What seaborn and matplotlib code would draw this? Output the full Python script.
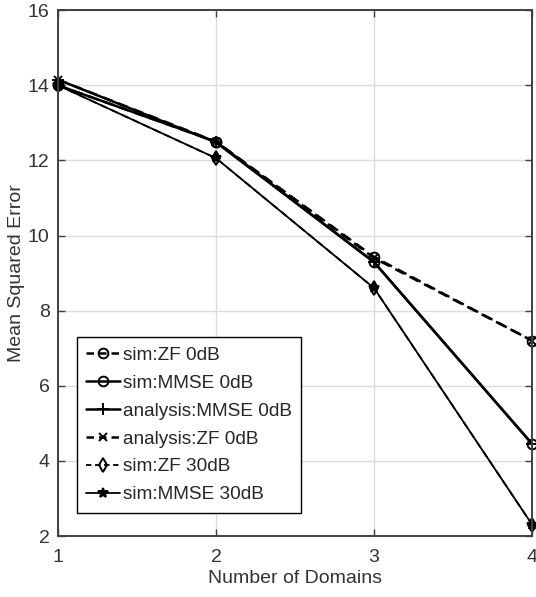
import numpy as np
import pandas as pd
import seaborn as sns
import matplotlib
matplotlib.use("Agg")
import matplotlib.pyplot as plt

# Number of domains on the x axis
domains = [1, 2, 3, 4]

# Mean squared error for each curve
sim_zf_0db = [14.0, 12.5, 9.43, 7.2]
sim_mmse_0db = [14.0, 12.5, 9.29, 4.45]
analysis_mmse_0db = [14.15, 12.48, 9.29, 4.45]
analysis_zf_0db = [14.15, 12.5, 9.4, 7.2]
sim_zf_30db = [14.0, 12.06, 8.6, 2.3]
sim_mmse_30db = [14.0, 12.06, 8.6, 2.3]

series_names = [
    "sim:ZF 0dB",
    "sim:MMSE 0dB",
    "analysis:MMSE 0dB",
    "analysis:ZF 0dB",
    "sim:ZF 30dB",
    "sim:MMSE 30dB",
]
series_values = [sim_zf_0db, sim_mmse_0db, analysis_mmse_0db,
                 analysis_zf_0db, sim_zf_30db, sim_mmse_30db]

x_ticks = [1, 2, 3, 4]
y_ticks = [2, 4, 6, 8, 10, 12, 14, 16]

styles = {
    "sim:ZF 0dB": dict(ls="--", marker="o", mfc="none", ms=7, lw=1.8),
    "sim:MMSE 0dB": dict(ls="-", marker="o", mfc="none", ms=7, lw=1.8),
    "analysis:MMSE 0dB": dict(ls="-", marker="+", mfc="none", ms=8, lw=1.8),
    "analysis:ZF 0dB": dict(ls="--", marker="x", mfc="none", ms=6, lw=1.8),
    "sim:ZF 30dB": dict(ls="--", marker="d", mfc="none", ms=7, lw=1.3),
    "sim:MMSE 30dB": dict(ls="-", marker="*", mfc="black", ms=7, lw=1.3),
}

rows = []
for name, vals in zip(series_names, series_values):
    for d, v in zip(domains, vals):
        rows.append({"Number of Domains": d, "Mean Squared Error": v, "series": name})
df = pd.DataFrame(rows)

sns.set_theme(style="white")
plt.rcParams["font.family"] = ["Liberation Sans", "DejaVu Sans"]

fig = plt.figure(figsize=(5.36, 5.97), dpi=100)
ax = fig.add_axes([0.108, 0.102, 0.885, 0.881])

for name in series_names:
    st = styles[name]
    sub = df[df["series"] == name]
    sns.lineplot(data=sub, x="Number of Domains", y="Mean Squared Error", ax=ax,
                 color="black", linestyle=st["ls"], linewidth=st["lw"],
                 marker=st["marker"], markersize=st["ms"],
                 markerfacecolor=st["mfc"], markeredgecolor="black",
                 markeredgewidth=1.4, label=name, dashes=False, clip_on=False)

# dashed curves get a MATLAB-like dash pattern
for line, name in zip(ax.get_lines(), series_names):
    if styles[name]["ls"] == "--":
        line.set_linestyle((0, (4, 2.5)))

ax.set_xlim(1, 4)
ax.set_ylim(2, 16)
ax.set_xticks(x_ticks)
ax.set_yticks(y_ticks)
ax.grid(True, color="#dcdcdc", linewidth=1.0)
ax.set_axisbelow(True)

for sp in ax.spines.values():
    sp.set_color("#404040")
    sp.set_linewidth(1.4)

ax.tick_params(axis="both", direction="in", length=5, width=1.0, colors="#404040",
               labelcolor="#333333", labelsize=14, top=True, right=True,
               bottom=True, left=True)
ax.tick_params(axis="x", pad=9)
ax.tick_params(axis="y", pad=6)

ax.set_xlabel("Number of Domains", fontsize=14, color="#333333", labelpad=3)
ax.set_ylabel("Mean Squared Error", fontsize=14, color="#333333", labelpad=2)

handles, labels = ax.get_legend_handles_labels()
leg = ax.legend(handles, labels, loc="lower left", bbox_to_anchor=(0.04, 0.044),
                fontsize=13.7, frameon=True, fancybox=False, edgecolor="black",
                framealpha=1, handlelength=1.75, handletextpad=0.15,
                labelspacing=0.56, borderpad=0.5, borderaxespad=0)
leg.get_frame().set_linewidth(1.0)
for t in leg.get_texts():
    t.set_color("#262626")
for h in leg.get_lines():
    if h.get_linestyle() not in ("-", "solid"):
        h.set_linestyle((0, (3, 2)))

fig.savefig("out.png", dpi=100)
